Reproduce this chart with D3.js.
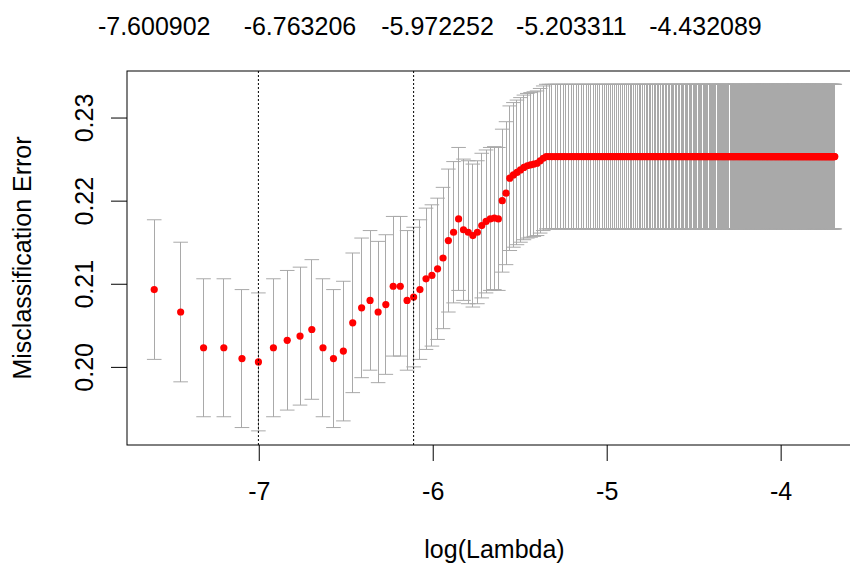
<meta charset="utf-8">
<body style="margin:0;background:#fff">
<div id="chart"></div>
</body>
<script src="https://cdn.jsdelivr.net/npm/d3@7"></script>
<script>
// lambda values (x 1e-5) where the CV curve still moves
var lambdaPath = [50.0, 58.2, 66.4, 74.6, 82.8, 91.0, 99.2, 107.4, 115.6, 123.7,
  131.9, 140.1, 148.3, 156.5, 164.7, 172.9, 181.1, 189.3, 197.5, 205.7,
  213.9, 222.1, 230.3, 238.5, 246.7, 254.9, 263.0, 271.2, 279.4, 287.6,
  295.8, 304.0, 312.2, 320.4, 328.6, 336.8, 345.0, 353.2, 361.4, 369.6,
  377.8, 386.0, 394.2, 402.3, 410.5, 418.7, 426.9, 435.1, 443.3, 451.5,
  459.7, 467.9, 476.1];
var cvmPath = [0.2093, 0.2066, 0.2023, 0.2023, 0.2010, 0.2006, 0.2023, 0.2032, 0.2037, 0.2045,
  0.2023, 0.2010, 0.2019, 0.2053, 0.2071, 0.2080, 0.2066, 0.2075, 0.2097, 0.2097,
  0.2080, 0.2084, 0.2093, 0.2106, 0.2110, 0.2118, 0.2131, 0.2152, 0.2162, 0.2178,
  0.2165, 0.2162, 0.2158, 0.2162, 0.2170, 0.2175, 0.2178, 0.2179, 0.2178, 0.2200,
  0.2209, 0.2227, 0.2231, 0.2234, 0.2237, 0.2240, 0.2242, 0.2243, 0.2244, 0.2245,
  0.2248, 0.2251, 0.2253];
var cvsdPath = [0.0084, 0.0084, 0.0083, 0.0083, 0.0083, 0.0083, 0.0083, 0.0084, 0.0083, 0.0084,
  0.0083, 0.0083, 0.0084, 0.0084, 0.0084, 0.0084, 0.0085, 0.0084, 0.0084, 0.0084,
  0.0084, 0.0084, 0.0084, 0.0085, 0.0085, 0.0085, 0.0085, 0.0086, 0.0085, 0.0086,
  0.0085, 0.0086, 0.0086, 0.0086, 0.0087, 0.0086, 0.0086, 0.0086, 0.0086, 0.0086,
  0.0086, 0.0087, 0.0087, 0.0087, 0.0087, 0.0087, 0.0087, 0.0087, 0.0087, 0.0087,
  0.0087, 0.0087, 0.0087];

// the rest of the path: null model everywhere, same error
var lambdaFlat = [484, 492, 501, 509, 517, 525, 533,
  542, 550, 558, 566, 574, 583, 591, 599, 607, 615,
  624, 632, 640, 648, 656, 665, 673, 681, 689, 697,
  706, 714, 722, 730, 738, 746, 755, 763, 771, 779,
  787, 796, 804, 812, 820, 828, 837, 845, 853, 861,
  869, 878, 886, 894, 902, 910, 919, 927, 935, 943,
  951, 960, 968, 976, 984, 992, 1001, 1009, 1017, 1025,
  1033, 1041, 1050, 1058, 1066, 1074, 1082, 1091, 1099, 1107,
  1115, 1123, 1132, 1140, 1148, 1156, 1164, 1173, 1181, 1189,
  1197, 1205, 1214, 1222, 1230, 1238, 1246, 1255, 1263, 1271,
  1279, 1287, 1295, 1304, 1312, 1320, 1328, 1336, 1345, 1353,
  1361, 1369, 1377, 1386, 1394, 1402, 1410, 1418, 1427, 1435,
  1443, 1451, 1459, 1468, 1476, 1484, 1492, 1500, 1509, 1517,
  1525, 1533, 1541, 1550, 1558, 1566, 1574, 1582, 1590, 1599,
  1607, 1615, 1623, 1631, 1640, 1648, 1656, 1664, 1672, 1681,
  1689, 1697, 1705, 1713, 1722, 1730, 1738, 1746, 1754, 1763,
  1771, 1779, 1787, 1795, 1804, 1812, 1820, 1828, 1836, 1844,
  1853, 1861, 1869, 1877, 1885, 1894, 1902, 1910, 1918, 1926,
  1935, 1943, 1951, 1959, 1967, 1976, 1984, 1992, 2000, 2008,
  2017, 2025, 2033, 2041, 2049, 2058, 2066, 2074, 2082, 2090,
  2098, 2107, 2115, 2123, 2131, 2139, 2148, 2156, 2164, 2172,
  2180, 2189, 2197, 2205, 2213, 2221, 2230, 2238, 2246, 2254,
  2262, 2271, 2279, 2287, 2295, 2303, 2312, 2320, 2328, 2336,
  2344, 2353, 2361, 2369, 2377, 2385, 2393, 2402, 2410, 2418,
  2426, 2434, 2443, 2451, 2459, 2467, 2475, 2484, 2492, 2500];
var cvmFlat = 0.2253;
var cvsdFlat = 0.0087;

var xTicks = [-7, -6, -5, -4];
var yTicks = [0.20, 0.21, 0.22, 0.23];
var topLabels = ["-7.600902", "-6.763206", "-5.972252", "-5.203311", "-4.432089"];

var rows = lambdaPath.map(function(l, i) {
  return {x: Math.log(l * 1e-5), m: cvmPath[i], s: cvsdPath[i]};
}).concat(lambdaFlat.map(function(l) {
  return {x: Math.log(l * 1e-5), m: cvmFlat, s: cvsdFlat};
}));

// lambda.min and lambda.1se like glmnet picks them
var iMin = d3.minIndex(cvmPath);
var lim = cvmPath[iMin] + cvsdPath[iMin];
var i1se = iMin;
cvmPath.forEach(function(v, i) { if (v <= lim && i > i1se) i1se = i; });

var font = "'Liberation Sans', Arial, sans-serif";

var svg = d3.select("#chart").append("svg")
  .attr("width", 850)
  .attr("height", 565)
  .style("font-family", font);

var x = d3.scaleLinear().domain([-7.7574, -3.5324]).range([127, 862]);
var y = d3.scaleLinear().domain([0.1906, 0.2356]).range([445, 71]);

// error bars
var bars = svg.append("g").attr("stroke", "darkgrey").attr("stroke-width", 1).attr("fill", "none");
rows.forEach(function(d) {
  var cx = x(d.x), up = y(d.m + d.s), lo = y(d.m - d.s);
  bars.append("line").attr("x1", cx).attr("x2", cx).attr("y1", up).attr("y2", lo)
    .attr("shape-rendering", "crispEdges");
  bars.append("line").attr("x1", cx - 7.3).attr("x2", cx + 7.3).attr("y1", up).attr("y2", up);
  bars.append("line").attr("x1", cx - 7.3).attr("x2", cx + 7.3).attr("y1", lo).attr("y2", lo);
});

svg.append("g").selectAll("circle")
  .data(rows)
  .enter().append("circle")
  .attr("cx", function(d) { return x(d.x); })
  .attr("cy", function(d) { return y(d.m); })
  .attr("r", 3.6)
  .attr("fill", "red");

// dotted verticals
[iMin, i1se].forEach(function(i) {
  var cx = x(Math.log(lambdaPath[i] * 1e-5));
  svg.append("line")
    .attr("x1", cx).attr("x2", cx)
    .attr("y1", 71).attr("y2", 445)
    .attr("stroke", "#000")
    .attr("stroke-dasharray", "2,2");
});

// box
svg.append("rect")
  .attr("x", 127).attr("y", 71)
  .attr("width", 735).attr("height", 374)
  .attr("fill", "none")
  .attr("stroke", "#000");

// x axis
var xa = svg.append("g").attr("transform", "translate(0,445)")
  .call(d3.axisBottom(x).tickValues(xTicks).tickSize(16).tickFormat(function(d) { return String(d); }));
xa.select(".domain").remove();
xa.selectAll("line").attr("stroke", "#000");
xa.selectAll("text")
  .attr("y", 55).attr("dy", null)
  .attr("fill", "#000")
  .style("font-size", "25px").style("font-family", font);

// y axis
var ya = svg.append("g").attr("transform", "translate(127,0)")
  .call(d3.axisLeft(y).tickValues(yTicks).tickSize(16).tickFormat(d3.format(".2f")));
ya.select(".domain").remove();
ya.selectAll("line").attr("stroke", "#000");
ya.selectAll("text")
  .attr("x", null).attr("dy", null)
  .attr("text-anchor", "middle")
  .attr("transform", "translate(-34,0) rotate(-90)")
  .attr("fill", "#000")
  .style("font-size", "25px").style("font-family", font);

// top labels
svg.append("g").selectAll("text")
  .data(topLabels)
  .enter().append("text")
  .attr("x", function(d) { return x(+d); })
  .attr("y", 35)
  .attr("text-anchor", "middle")
  .style("font-size", "25px")
  .text(String);

svg.append("text")
  .attr("x", 494.5).attr("y", 558)
  .attr("text-anchor", "middle")
  .style("font-size", "25px")
  .text("log(Lambda)");

svg.append("text")
  .attr("transform", "translate(31,258) rotate(-90)")
  .attr("text-anchor", "middle")
  .style("font-size", "25px")
  .text("Misclassification Error");
</script>
